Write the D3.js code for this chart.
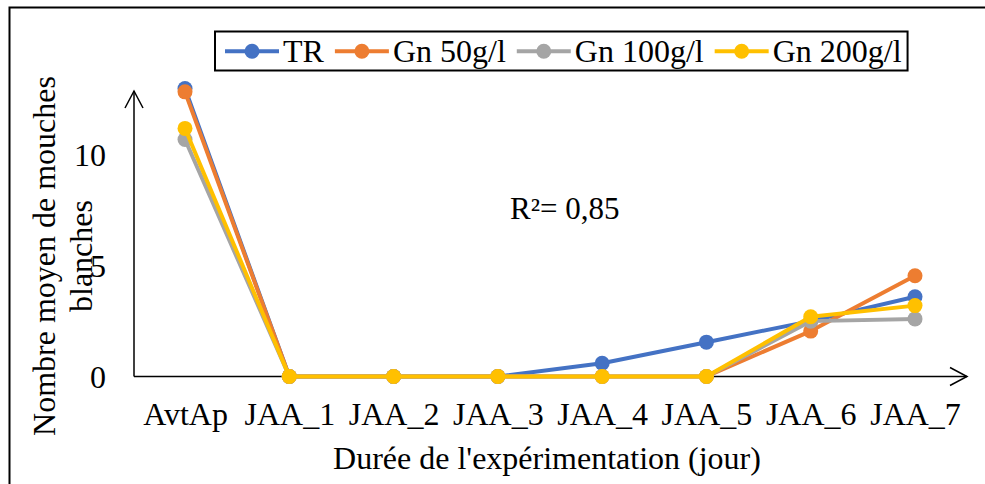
<!DOCTYPE html>
<html><head><meta charset="utf-8">
<script src="https://cdn.jsdelivr.net/npm/d3@7"></script>
<style>
html,body{margin:0;padding:0;background:#fff;}
text{font-family:"Liberation Serif","Times New Roman",serif;fill:#000;}
</style></head>
<body>
<svg id="c" width="985" height="484"></svg>
<script>
const categories = ["AvtAp","JAA_1","JAA_2","JAA_3","JAA_4","JAA_5","JAA_6","JAA_7"];
const seriesNames = ["TR","Gn 50g/l","Gn 100g/l","Gn 200g/l"];
const valuesTR    = [13.0, 0, 0, 0, 0.6, 1.55, 2.5, 3.6];
const valuesGn50  = [12.85, 0, 0, 0, 0, 0, 2.05, 4.55];
const valuesGn100 = [10.7, 0, 0, 0, 0, 0, 2.5, 2.6];
const valuesGn200 = [11.2, 0, 0, 0, 0, 0, 2.7, 3.2];
const yTicks = [0, 5, 10];
const colors = ["#4472C4","#ED7D31","#A5A5A5","#FFC000"];
const yTitleLines = ["Nombre moyen de mouches","blanches"];
const xTitle = "Durée de l'expérimentation (jour)";
const r2Label = "R²= 0,85";

const series = [valuesTR, valuesGn50, valuesGn100, valuesGn200];
const svg = d3.select("#c");
const FS = 32;

// outer frame
svg.append("rect").attr("x",9.5).attr("y",7.5).attr("width",1000).attr("height",500)
  .attr("fill","none").attr("stroke","#000").attr("stroke-width",2);

const x = d3.scalePoint().domain(categories).range([185, 915]);
const y = d3.scaleLinear().domain([0, 10]).range([376.5, 155]);
const axX0 = 134, axXEnd = 967, axYTop = 91;

// axes lines with arrows
const g = svg.append("g");
g.append("line").attr("x1",axX0).attr("x2",axXEnd).attr("y1",y(0)).attr("y2",y(0))
  .attr("stroke","#000").attr("stroke-width",1.5);
g.append("polyline").attr("points",`${axXEnd-17},${y(0)-9} ${axXEnd},${y(0)} ${axXEnd-17},${y(0)+9}`)
  .attr("fill","none").attr("stroke","#000").attr("stroke-width",1.5);
g.append("line").attr("x1",axX0).attr("x2",axX0).attr("y1",y(0)).attr("y2",axYTop)
  .attr("stroke","#000").attr("stroke-width",1.5);
g.append("polyline").attr("points",`${axX0-9},${axYTop+17} ${axX0},${axYTop} ${axX0+9},${axYTop+17}`)
  .attr("fill","none").attr("stroke","#000").attr("stroke-width",1.5);

// y tick labels
const yAxis = d3.axisLeft(y).tickValues(yTicks).tickSize(0).tickPadding(0).tickFormat(d3.format("d"));
const ya = svg.append("g").attr("transform",`translate(106,0)`).call(yAxis);
ya.select(".domain").remove();
ya.selectAll("text").attr("font-size",FS).attr("font-family","Liberation Serif").attr("fill","#000").attr("dy","0.34em");

// x tick labels
const xAxis = d3.axisBottom(x).tickSize(0).tickPadding(0);
const xa = svg.append("g").attr("transform",`translate(0,${y(0)+48.5})`).call(xAxis);
xa.select(".domain").remove();
xa.selectAll("text").attr("font-size",FS).attr("font-family","Liberation Serif").attr("fill","#000").attr("dy","0");

// titles
svg.append("text").attr("x",547).attr("y",469).attr("text-anchor","middle").attr("font-size",FS).text(xTitle);
const yt = svg.append("text").attr("transform","translate(55,256) rotate(-90)").attr("text-anchor","middle").attr("font-size",FS);
yt.append("tspan").attr("x",0).attr("y",0).text(yTitleLines[0]);
yt.append("tspan").attr("x",0).attr("y",37).text(yTitleLines[1]);
svg.append("text").attr("x",510).attr("y",219).attr("font-size",FS - 1).text(r2Label);

// lines
const line = d3.line().x((d,i)=>x(categories[i])).y(d=>y(d));
series.forEach((s,k)=>{
  const sg = svg.append("g");
  sg.append("path").datum(s).attr("d",line).attr("fill","none").attr("stroke",colors[k])
    .attr("stroke-width",4).attr("stroke-linejoin","round");
  sg.selectAll("circle").data(s).enter().append("circle")
    .attr("cx",(d,i)=>x(categories[i])).attr("cy",d=>y(d)).attr("r",7.5).attr("fill",colors[k]);
});

// legend
const lg = svg.append("g");
const box = lg.append("rect").attr("x",215).attr("y",31.5).attr("height",39)
  .attr("fill","#fff").attr("stroke","#000").attr("stroke-width",2);
let cx = 225;
let lastEnd = 0;
seriesNames.forEach((n,k)=>{
  lg.append("line").attr("x1",cx).attr("x2",cx+54).attr("y1",51.3).attr("y2",51.3)
    .attr("stroke",colors[k]).attr("stroke-width",4);
  lg.append("circle").attr("cx",cx+27).attr("cy",51.3).attr("r",7.5).attr("fill",colors[k]);
  const t = lg.append("text").attr("x",cx+58).attr("y",61.5).attr("font-size",FS).text(n);
  lastEnd = cx + 58 + t.node().getComputedTextLength();
  cx = lastEnd + 11;
});
box.attr("width", lastEnd + 6 - 215);
</script>
</body></html>
